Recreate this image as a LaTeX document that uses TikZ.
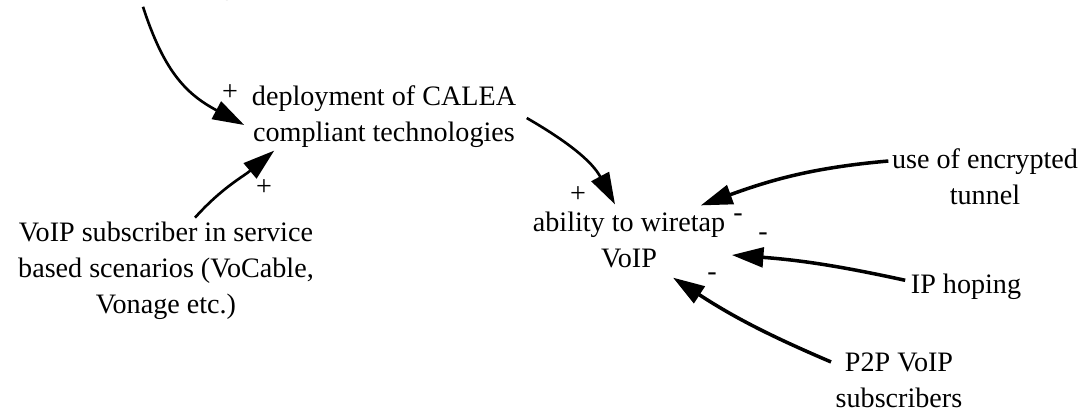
\documentclass[tikz,border=0pt]{standalone}
\usepackage{fontspec}
\setmainfont{Liberation Serif}
\usetikzlibrary{arrows.meta,positioning,calc}

\tikzset{
  var/.style={align=center, inner sep=0pt, font=\fontsize{8}{10.2}\selectfont},
  sign/.style={inner sep=0pt, font=\fontsize{8}{10.2}\selectfont},
  link/.style={line width=0.75pt, -{Triangle[length=9pt,width=5.6pt]}},
  neglink/.style={link, line width=1pt},
}

\begin{document}
\begin{tikzpicture}[x=0.01cm,y=0.01cm]
\useasboundingbox (0,0) rectangle (1084,-411);
\clip (0,0) rectangle (1084,-411);
\node[var, anchor=base] (compliant) at (135,6) {compliant technologies};
\node[var] (deploy) at (384,-117) {deployment of CALEA\\compliant technologies};
\node[var] (service) at (166,-271) {VoIP subscriber in service\\based scenarios (VoCable,\\Vonage etc.)};
\node[var] (wiretap) at (629,-240) {ability to wiretap\\VoIP};
\node[var] (tunnel) at (985,-177) {use of encrypted\\tunnel};
\node[var, anchor=base] (hoping) at (966,-293) {IP hoping};
\node[var] (p2p) at (899,-380) {P2P VoIP\\subscribers};
\node[sign] (plusA) at (230,-93) {+};
\node[sign] (plusB) at (264,-188) {+};
\node[sign] (plusC) at (578,-195) {+};
\node[sign] (minusA) at (738,-218) {-};
\node[sign] (minusB) at (763,-237) {-};
\node[sign] (minusC) at (712,-277) {-};
\draw[link] ($(compliant.south)+(8,-6)$) to[out=-72,in=152,looseness=1.1] ($(deploy.west)+(-7,-8)$);
\draw[link] ($(service.north)+(29,4)$) to[out=48,in=-140] ($(deploy.south west)+(23,-2)$);
\draw[link] ($(deploy.east)+(10,-1)$) to[out=-30,in=118] ($(wiretap.north)+(-14,7)$);
\draw[neglink] ($(tunnel.west)+(-3,16)$) to[out=185,in=20] ($(wiretap.north east)+(-25,6)$);
\draw[neglink] ($(hoping.west)+(-5,6)$) to[bend right=4] ($(wiretap.east)+(6,-15)$);
\draw[neglink] ($(p2p.north west)+(-4,-10)$) to[bend left=5] ($(wiretap.south)+(44,-9)$);
\end{tikzpicture}
\end{document}
